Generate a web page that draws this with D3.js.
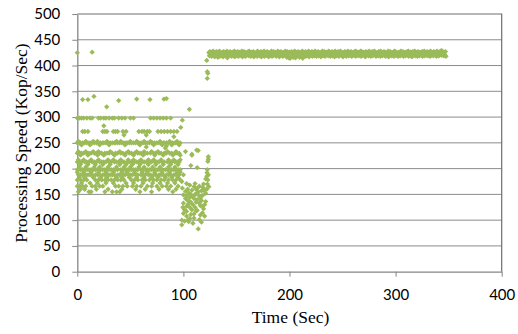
<!DOCTYPE html>
<html>
<head>
<meta charset="utf-8">
<script src="https://cdn.jsdelivr.net/npm/d3@7"></script>
<style>
  html, body { margin: 0; padding: 0; background: #fff; }
  svg { display: block; }
</style>
</head>
<body>
<svg id="chart" width="518" height="334"></svg>
<script>
// Axis ticks
const xTicks = [0, 100, 200, 300, 400];
const yTicks = [0, 50, 100, 150, 200, 250, 300, 350, 400, 450, 500];

// Phase 1 (0-100 s): throughput settles on discrete levels (Kop/Sec)
const levelValues = [298, 272, 250, 230, 213, 198, 188, 178, 166, 155,
                     253, 246, 233, 226, 217, 208, 203, 193, 183, 172, 160];
// seconds at which each level was reported
const levelTimes = [
  [0, 2, 4, 6, 9, 12, 14, 20, 22, 25, 27, 30, 33, 35, 39, 42, 45, 50, 53, 69, 72, 75, 78, 81, 84, 88],
  [5, 7, 10, 24, 26, 28, 34, 36, 38, 43, 46, 58, 61, 63, 66, 68, 76, 79, 82, 85, 88, 91, 94],
  [0, 2, 3, 5, 7, 9, 11, 13, 14, 16, 18, 20, 22, 24, 25, 27, 29, 31, 33, 35, 36, 38, 40, 42, 44, 46, 47, 49, 51, 53, 55, 57, 58, 60, 62, 64, 66, 68, 70, 71, 73, 75, 77, 79, 81, 82, 84, 86, 88, 90, 92, 93, 95, 97],
  [0, 2, 4, 6, 9, 11, 13, 16, 18, 21, 23, 26, 28, 30, 33, 36, 38, 41, 43, 46, 49, 51, 54, 57, 59, 61, 64, 66, 69, 72, 74, 77, 79, 82, 84, 87, 89, 92, 94, 96],
  [0, 2, 4, 7, 9, 11, 14, 16, 18, 21, 23, 25, 27, 30, 32, 35, 37, 39, 42, 44, 47, 49, 51, 54, 56, 58, 61, 63, 65, 68, 70, 73, 75, 77, 80, 82, 85, 87, 89, 92, 94, 96],
  [0, 1, 3, 5, 7, 9, 11, 13, 15, 17, 19, 22, 24, 26, 28, 30, 32, 34, 36, 38, 41, 43, 45, 47, 49, 51, 53, 55, 57, 60, 62, 64, 66, 68, 70, 72, 74, 76, 78, 80, 83, 85, 87, 89, 91, 93, 95, 97],
  [1, 3, 5, 8, 10, 12, 14, 17, 19, 21, 24, 26, 29, 31, 33, 35, 38, 40, 43, 45, 48, 50, 52, 55, 57, 60, 62, 64, 67, 69, 72, 74, 77, 79, 81, 84, 86, 88, 91, 93, 96],
  [0, 3, 6, 9, 17, 20, 23, 26, 29, 32, 35, 38, 41, 44, 51, 54, 57, 61, 64, 68, 72, 75, 79, 82, 86, 90, 93, 97],
  [0, 2, 5, 8, 14, 17, 21, 24, 36, 39, 43, 47, 52, 56, 60, 66, 70, 75, 80, 84, 88, 95],
  [1, 11, 13, 26, 33, 37, 40, 59, 70, 90],
  [1, 8, 15, 19, 28, 37, 41, 50, 56, 63, 69, 78, 87, 94],
  [4, 12, 21, 30, 45, 59, 72, 80, 89, 96],
  [1, 8, 15, 20, 31, 40, 48, 56, 63, 70, 76, 85, 93],
  [3, 10, 19, 25, 35, 45, 53, 62, 73, 81, 90, 97],
  [1, 6, 13, 20, 29, 34, 41, 48, 53, 60, 67, 72, 79, 86, 91, 97],
  [3, 10, 17, 24, 31, 40, 46, 52, 59, 67, 74, 81, 88, 95],
  [2, 8, 16, 21, 29, 37, 44, 50, 58, 63, 71, 78, 86, 92],
  [0, 6, 13, 20, 27, 34, 42, 47, 54, 61, 66, 73, 80, 87, 94, 97],
  [2, 7, 15, 22, 28, 37, 42, 49, 56, 63, 70, 76, 83, 89, 95],
  [4, 12, 19, 27, 34, 46, 53, 62, 71, 78, 85, 92],
  [3, 7, 18, 29, 42, 55, 64, 77, 86, 93]
];

// Individual readings: outliers, the 100-124 s slowdown and the ramp-up
const scatterTimes = [
  0, 14, 5, 10, 15.7, 27.7, 39, 56, 68.5, 81.7, 84, 25, 44, 65, 99, 97.5, 91, 105.6,
  108, 114, 107, 113, 102, 112.5, 65, 83, 84, 108,
  122, 122.5, 123, 122.5, 123.5, 123.5, 123, 122.5, 122.3, 122, 123, 122.5, 124,
  100, 98.5, 103, 106, 111, 113, 115, 118, 119, 100, 103, 106, 109, 112, 115, 118, 121,
  100, 103, 106, 109, 112, 117, 121, 100, 103, 107, 110, 113, 118, 98.5, 105, 110, 115,
  98.5, 114, 101, 104, 108, 111, 116, 119, 120, 102, 105, 108, 113, 117, 119, 121,
  101, 106, 109, 116, 120, 104, 110, 112, 107, 114, 117, 103,
  99, 102, 105, 107, 110, 112, 116, 118, 120, 122, 123.5, 99.5, 104, 111, 115
];
const scatterSpeeds = [
  425, 426, 334, 334, 340, 320, 332, 335, 334, 335, 336, 283, 265, 265, 294, 280, 262, 315,
  228, 235, 206, 202, 233, 236, 242, 240, 244, 226,
  410, 388, 385, 375, 223, 218, 214, 198, 192, 185, 178, 170, 165,
  188, 175, 171, 168, 171, 162, 166, 164, 158, 149, 147, 144, 146, 151, 147, 148, 152,
  133, 127, 125, 130, 135, 138, 136, 113, 108, 111, 112, 119, 114, 100, 97, 104, 101,
  91, 83, 120, 138, 158, 125, 128, 122, 108, 156, 153, 120, 140, 157, 170, 180,
  98, 103, 94, 110, 130, 160, 165, 118, 135, 155, 96, 117,
  162, 142, 132, 150, 142, 160, 143, 127, 160, 160, 188, 125, 100, 150, 133
];

// Phase 3: steady state from 124 s, two readings per second (on the second and half second)
const steadyStart = 124;
const steadyA = [
  425, 427, 424, 426, 428, 423, 425, 427, 426, 424, 428, 425, 423, 426, 427, 425, 424, 428, 426, 425,
  427, 424, 426, 425, 428, 426, 423, 427, 425, 426, 424, 428, 425, 427, 426, 424, 425, 427, 428, 425,
  426, 424, 427, 425, 423, 426, 428, 425, 424, 427, 426, 425, 428, 424, 426, 427, 425, 423, 426, 428,
  425, 427, 424, 426, 425, 428, 423, 426, 427, 424, 425, 426, 428, 425, 427, 424, 426, 425, 427, 424,
  426, 428, 425, 424, 427, 426, 423, 425, 428, 426, 424, 427, 425, 426, 428, 424, 425, 427, 426, 425,
  428, 424, 426, 427, 425, 423, 426, 428, 425, 427, 424, 426, 425, 428, 426, 424, 427, 425, 426, 428,
  424, 426, 427, 425, 428, 426, 424, 425, 427, 426, 423, 428, 425, 426, 427, 424, 426, 425, 428, 427,
  425, 426, 424, 428, 427, 425, 426, 423, 427, 426, 425, 428, 424, 426, 427, 425, 428, 426, 424, 425,
  427, 426, 428, 424, 425, 427, 426, 425, 423, 428, 426, 427, 424, 425, 426, 428, 427, 425, 424, 426,
  425, 428, 426, 427, 424, 426, 425, 427, 428, 423, 426, 425, 427, 424, 428, 426, 425, 427, 426, 424,
  426, 427, 425, 428, 424, 426, 427, 425, 426, 428, 423, 425, 427, 426, 424, 428, 425, 426, 427, 429,
  428, 426, 425, 427
];
const steadyB = [
  419, 421, 418, 420, 422, 417, 419, 421, 416, 420, 418, 422, 419, 417, 421, 420, 418, 415, 419, 421,
  420, 418, 422, 419, 417, 421, 420, 418, 419, 422, 420, 417, 421, 419, 418, 420, 422, 419, 421, 418,
  421, 419, 417, 420, 422, 418, 421, 419, 420, 417, 421, 419, 418, 422, 420, 419, 417, 421, 420, 418,
  419, 422, 420, 418, 421, 419, 417, 420, 422, 418, 419, 421, 420, 416, 418, 415, 414, 417, 419, 416,
  418, 415, 417, 420, 419, 416, 421, 418, 414, 419, 420, 418, 421, 419, 417, 420, 422, 418, 421, 419,
  420, 418, 421, 419, 422, 417, 420, 419, 421, 418, 420, 422, 419, 421, 418, 420, 419, 421, 417, 420,
  419, 421, 418, 420, 422, 419, 417, 421, 420, 418, 421, 419, 420, 422, 418, 419, 421, 420, 418, 421,
  420, 419, 422, 418, 420, 421, 419, 417, 420, 422, 419, 421, 418, 420, 419, 421, 422, 418, 420, 419,
  421, 418, 420, 419, 422, 420, 418, 421, 419, 417, 420, 421, 419, 422, 418, 420, 421, 419, 418, 420,
  419, 421, 420, 418, 422, 419, 421, 420, 418, 421, 419, 417, 420, 422, 419, 421, 418, 420, 419, 421,
  420, 418, 421, 419, 422, 420, 419, 421, 418, 420, 422, 419, 421, 420, 418, 421, 419, 420, 422, 420,
  421, 419, 420, 418
];

// Assemble all readings as {t, v}
const points = [];
levelValues.forEach((v, i) => levelTimes[i].forEach(t => points.push({ t, v })));
scatterTimes.forEach((t, i) => points.push({ t, v: scatterSpeeds[i] }));
steadyA.forEach((v, i) => points.push({ t: steadyStart + i, v }));
steadyB.forEach((v, i) => points.push({ t: steadyStart + i + 0.5, v }));

const plot = { left: 77.3, right: 501.7, top: 14, bottom: 271.7 };
const svg = d3.select("#chart");

const x = d3.scaleLinear().domain([0, 400]).range([plot.left, plot.right]);
const y = d3.scaleLinear().domain([0, 500]).range([plot.bottom, plot.top]);

const tickFont = "Lato, 'Open Sans', sans-serif";
const titleFont = "'Liberation Serif', 'Times New Roman', serif";

// Horizontal gridlines
svg.append("g")
  .selectAll("line")
  .data(yTicks.filter(d => d > 0 && d < 500))
  .join("line")
  .attr("x1", plot.left).attr("x2", plot.right)
  .attr("y1", d => y(d)).attr("y2", d => y(d))
  .attr("stroke", "#8c8c8c")
  .attr("stroke-width", 1);

// Plot-area frame (top and right)
svg.append("path")
  .attr("d", `M${plot.left},${plot.top}H${plot.right}V${plot.bottom}`)
  .attr("fill", "none")
  .attr("stroke", "#6e6e6e")
  .attr("stroke-width", 1.2);

// Y axis
const yAxis = svg.append("g")
  .attr("transform", `translate(${plot.left},0)`)
  .call(d3.axisLeft(y).tickValues(yTicks).tickSize(5).tickPadding(12).tickSizeOuter(0));
yAxis.select(".domain").attr("stroke", "#868686").attr("stroke-width", 1.3);
yAxis.selectAll(".tick line").attr("stroke", "#868686");
yAxis.selectAll("text")
  .attr("font-family", tickFont).attr("font-size", 15).attr("fill", "#000");

// X axis
const xAxis = svg.append("g")
  .attr("transform", `translate(0,${plot.bottom})`)
  .call(d3.axisBottom(x).tickValues(xTicks).tickSize(5).tickPadding(13).tickSizeOuter(0));
xAxis.select(".domain").attr("stroke", "#868686").attr("stroke-width", 1.3);
xAxis.selectAll(".tick line").attr("stroke", "#868686");
xAxis.selectAll("text")
  .attr("font-family", tickFont).attr("font-size", 15).attr("fill", "#000");

// Markers: small diamonds
const diamond = d3.symbol().type(d3.symbolSquare).size(14)();
svg.append("g")
  .selectAll("path")
  .data(points)
  .join("path")
  .attr("d", diamond)
  .attr("transform", d => `translate(${x(d.t)},${y(d.v)}) rotate(45)`)
  .attr("fill", "#9bbb59");

// Axis titles
svg.append("text")
  .attr("x", 290.5).attr("y", 323)
  .attr("text-anchor", "middle")
  .attr("font-family", titleFont).attr("font-size", 17.5)
  .text("Time (Sec)");

svg.append("text")
  .attr("transform", "translate(21,143) rotate(-90)")
  .attr("text-anchor", "middle")
  .attr("dominant-baseline", "central")
  .attr("font-family", titleFont).attr("font-size", 17.5)
  .text("Processing Speed (Kop/Sec)");
</script>
</body>
</html>
